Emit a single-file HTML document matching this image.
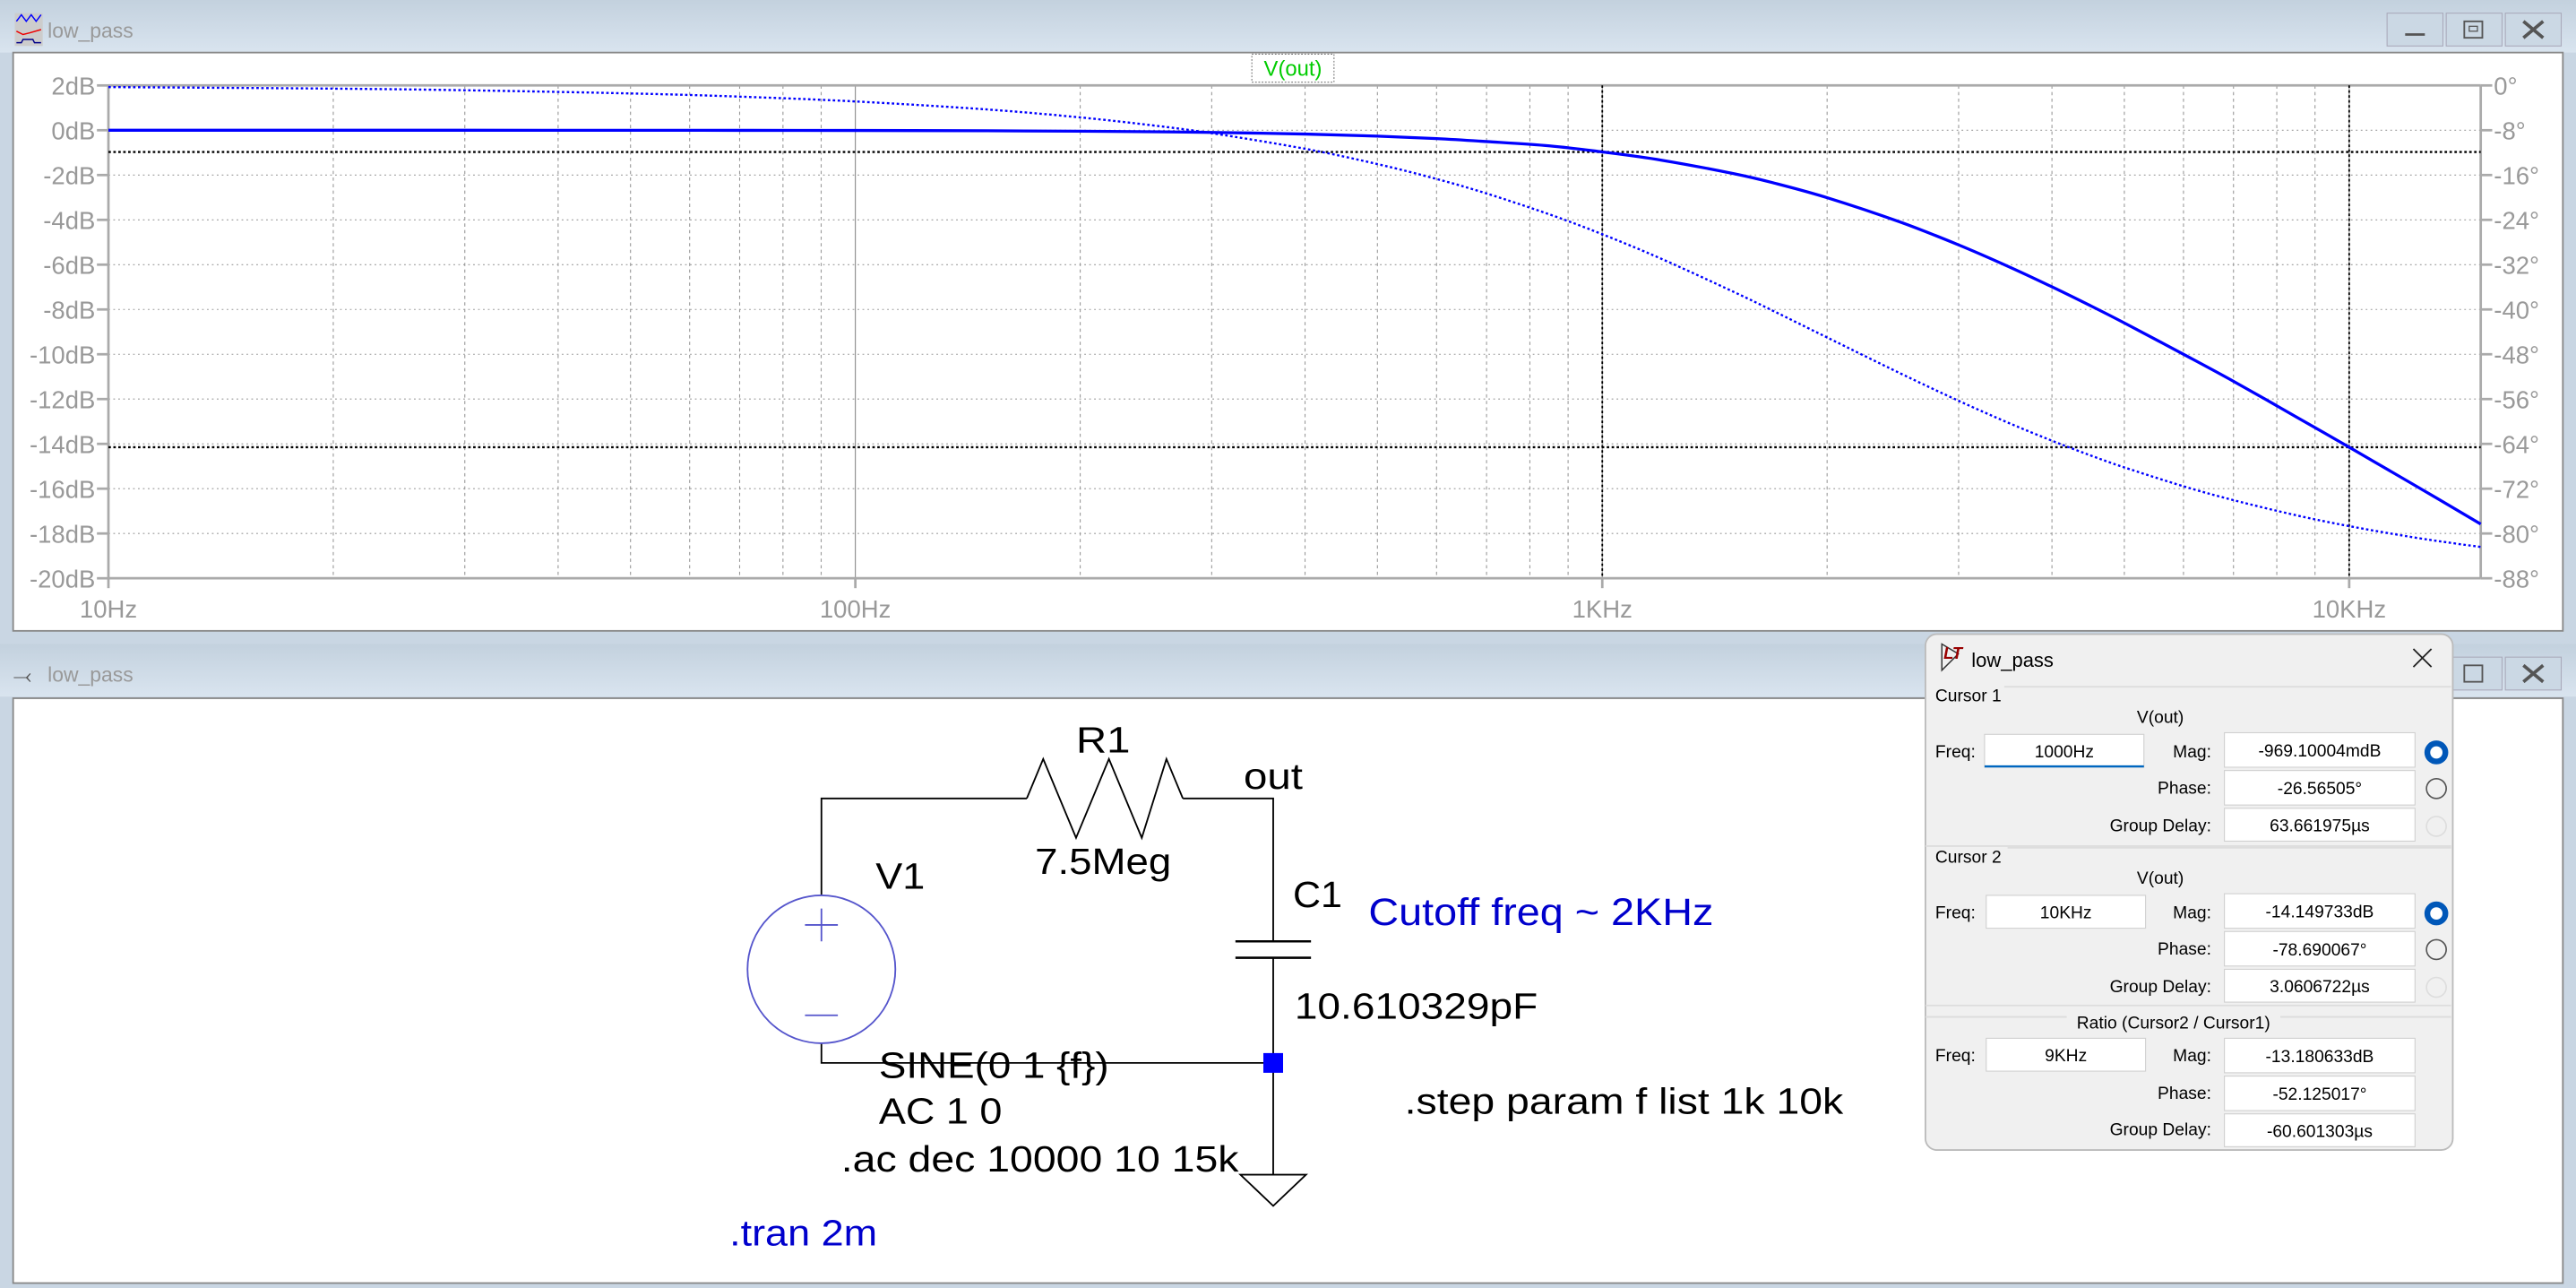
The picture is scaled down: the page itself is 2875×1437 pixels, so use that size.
<!DOCTYPE html>
<html><head><meta charset="utf-8"><style>
html,body{margin:0;padding:0;background:#c9d6e3;overflow:hidden}
svg{display:block}
text{font-family:"Liberation Sans",sans-serif}
</style></head><body>
<svg id="root" width="2875" height="1437" viewBox="0 0 1568 784" preserveAspectRatio="none" xmlns="http://www.w3.org/2000/svg">
<defs>
<linearGradient id="tb" x1="0" y1="0" x2="0" y2="1"><stop offset="0" stop-color="#c3d1de"/><stop offset="1" stop-color="#d9e4ef"/></linearGradient>
</defs>
<rect x="0" y="0" width="1568" height="784" fill="#c9d6e3"/>
<g>
<rect x="0" y="0" width="1568" height="32" fill="url(#tb)"/>
<g><rect x="9" y="8" width="17" height="20" fill="#ccc"/><polyline points="10,13 13,9 16,13 19,9 22,13 25,9" fill="none" stroke="#00f" stroke-width="0.8"/><polyline points="10,19 14,21 18,20 25,18" fill="none" stroke="#e00" stroke-width="0.8"/><polyline points="10,26 13,26 14,24 20,24 21,26 25,26" fill="none" stroke="#008" stroke-width="0.8"/></g>
<text x="29" y="23" font-size="12.5" fill="#999">low_pass</text>
<g>
<rect x="1453" y="8" width="34" height="20" fill="#cbd8e4" stroke="#aab" stroke-width="0.6"/><line x1="1464" y1="21" x2="1476" y2="21" stroke="#555" stroke-width="1.5"/>
<rect x="1489" y="8" width="34" height="20" fill="#cbd8e4" stroke="#aab" stroke-width="0.6"/><rect x="1500" y="13" width="11" height="10" fill="none" stroke="#555"/><rect x="1503" y="16" width="5" height="3" fill="none" stroke="#555" stroke-width="0.7"/>
<rect x="1525" y="8" width="34" height="20" fill="#cbd8e4" stroke="#aab" stroke-width="0.6"/><path d="M1536 13 L1548 23 M1548 13 L1536 23" stroke="#555" stroke-width="2"/>
</g>
<rect x="8" y="32" width="1552" height="352" fill="#fff" stroke="#888" stroke-width="1"/>
<g id="chart"></g>
</g>
<g>
<rect x="0" y="392" width="1568" height="32" fill="url(#tb)"/>
<text x="8" y="416" font-size="14" fill="#555">⤙</text>
<text x="29" y="415" font-size="12.5" fill="#999">low_pass</text>
<rect x="1489" y="400" width="34" height="20" fill="#cbd8e4" stroke="#aab" stroke-width="0.6"/><rect x="1500" y="405" width="11" height="10" fill="none" stroke="#555"/>
<rect x="1525" y="400" width="34" height="20" fill="#cbd8e4" stroke="#aab" stroke-width="0.6"/><path d="M1536 405 L1548 415 M1548 405 L1536 415" stroke="#555" stroke-width="2"/>
<rect x="8" y="425" width="1552" height="356" fill="#fff" stroke="#888" stroke-width="1"/>
<g stroke="#000" stroke-width="1" fill="none">
<polyline points="500,545 500,486 625,486"/>
<polyline points="625,486 635,462 655,510 675,462 695,510 710,462 720,486"/>
<polyline points="720,486 775,486 775,573"/>
<line x1="752" y1="573" x2="798" y2="573" stroke-width="1.4"/>
<line x1="752" y1="583" x2="798" y2="583" stroke-width="1.4"/>
<polyline points="775,583 775,715"/>
<polyline points="775,647 500,647 500,635"/>
<polygon points="755,715 795,715 775,734"/>
</g>
<g>
<circle cx="500" cy="590" r="45" fill="none" stroke="#55c" stroke-width="1"/>
<path d="M490 563 H510 M500 553 V573 M490 618 H510" stroke="#55c" stroke-width="1"/>
</g>
<rect x="769" y="641" width="12" height="12" fill="#00f"/>
<g font-size="22" fill="#000" lengthAdjust="spacingAndGlyphs">
<text x="655" y="458" textLength="33" lengthAdjust="spacingAndGlyphs">R1</text>
<text x="630" y="532" textLength="83" lengthAdjust="spacingAndGlyphs">7.5Meg</text>
<text x="757" y="480" textLength="36" lengthAdjust="spacingAndGlyphs">out</text>
<text x="533" y="541" textLength="30" lengthAdjust="spacingAndGlyphs">V1</text>
<text x="787" y="552" textLength="30" lengthAdjust="spacingAndGlyphs">C1</text>
<text x="788" y="620" textLength="148" lengthAdjust="spacingAndGlyphs">10.610329pF</text>
<text x="535" y="656" textLength="140" lengthAdjust="spacingAndGlyphs">SINE(0 1 {f})</text>
<text x="535" y="684" textLength="75" lengthAdjust="spacingAndGlyphs">AC 1 0</text>
<text x="512" y="713" textLength="242" lengthAdjust="spacingAndGlyphs">.ac dec 10000 10 15k</text>
<text x="855" y="678" textLength="267" lengthAdjust="spacingAndGlyphs">.step param f list 1k 10k</text>
</g>
<text x="833" y="563" font-size="23" fill="#00c" textLength="210" lengthAdjust="spacingAndGlyphs">Cutoff freq ~ 2KHz</text>
<text x="444" y="758" font-size="22" fill="#00c" textLength="90" lengthAdjust="spacingAndGlyphs">.tran 2m</text>
</g>
<g font-size="10.5" fill="#000">
<rect x="1172" y="386" width="321" height="314" rx="7" fill="#f0f0f0" stroke="#bbb" stroke-width="1"/>
<path d="M1182 392 L1182 408 L1192 398 Z" fill="none" stroke="#333" stroke-width="0.8"/><text x="1183" y="401" font-size="10" fill="#900" font-weight="bold" font-style="italic">LT</text>
<text x="1200" y="406" font-size="12">low_pass</text>
<path d="M1469 395 L1480 406 M1480 395 L1469 406" stroke="#222" stroke-width="1"/>
<g id="dlg"></g>
</g>
<text x="787" y="46" font-size="13" fill="#0c0" text-anchor="middle">V(out)</text>
<rect x="762" y="33" width="50" height="17" fill="none" stroke="#777" stroke-dasharray="1,1" stroke-width="0.6"/>
</svg>
<script>
const freqs=[10,20,30,50,70,100,150,200,250,300,400,500,600,700,850,1000,1200,1500,1700,2000,2500,3000,3500,4000,4500,5000,6000,7000,8500,10000,12000,13500,15000];
const magDb=[0,0,-0.001,-0.003,-0.005,-0.011,-0.024,-0.043,-0.067,-0.097,-0.170,-0.263,-0.374,-0.506,-0.699,-0.969,-1.336,-1.938,-2.360,-3.010,-4.087,-5.119,-6.088,-6.990,-7.826,-8.603,-10.0,-11.206,-12.802,-14.150,-15.682,-16.680,-17.578];
const phaseDeg=[-0.29,-0.57,-0.86,-1.43,-2.00,-2.86,-4.29,-5.71,-7.13,-8.53,-11.31,-14.04,-16.70,-19.29,-23.03,-26.57,-30.96,-36.87,-40.36,-45.0,-51.34,-56.31,-60.26,-63.43,-66.04,-68.20,-71.57,-74.05,-76.76,-78.69,-80.54,-81.57,-82.41];
const dbTicks=[2,0,-2,-4,-6,-8,-10,-12,-14,-16,-18,-20];
const phaseTicks=[0,-8,-16,-24,-32,-40,-48,-56,-64,-72,-80,-88];
const decadeFreqs=[10,100,1000,10000];
const decadeLabels=["10Hz","100Hz","1KHz","10KHz"];
const cursorFreqs=[1000,10000];
const cursorMags=[-0.969,-14.150];

const NS="http://www.w3.org/2000/svg";
const X0=66,X1=1510,Y0=52,Y1=352,FMIN=10,FMAX=15000;
const xS=f=>X0+(Math.log10(f)-Math.log10(FMIN))/(Math.log10(FMAX)-Math.log10(FMIN))*(X1-X0);
const yDb=d=>Y0+(2-d)/22*(Y1-Y0);
const yPh=p=>Y0+(0-p)/88*(Y1-Y0);
const chart=document.getElementById('chart');
function mk(tag,attrs,parent){const e=document.createElementNS(NS,tag);for(const k in attrs)e.setAttribute(k,attrs[k]);(parent||chart).appendChild(e);return e;}

for(let d=10;d<=10000;d*=10){for(let m=1;m<=9;m++){const f=d*m;if(f>FMAX)break;const x=xS(f);
 const g=mk('line',{x1:x,y1:Y0,x2:x,y2:Y1,stroke:m===1?'#888':'#999','stroke-width':0.6,'stroke-dasharray':m===1?'none':'2,2'});
 
 }}
dbTicks.forEach((d,i)=>{const y=yDb(d);
 const g=mk('line',{x1:X0,y1:y,x2:X1,y2:y,stroke:(i===0||i===dbTicks.length-1)?'#aaa':'#999','stroke-width':(i===0||i===dbTicks.length-1)?1.5:0.6,'stroke-dasharray':(i===0||i===dbTicks.length-1)?'none':'1,2'});
 
 
 const tk=mk('line',{x1:X0-7,y1:y,x2:X0,y2:y,stroke:'#aaa','stroke-width':1.5});
 
 
 const t=mk('text',{x:X0-8,y:y+5.5,'font-size':15,fill:'#999','text-anchor':'end'});t.textContent=d+'dB';
 
 });
phaseTicks.forEach(p=>{const y=yPh(p);
 const tk=mk('line',{x1:X1,y1:y,x2:X1+7,y2:y,stroke:'#aaa','stroke-width':1.5});
 
 
 const t=mk('text',{x:X1+8,y:y+5.5,'font-size':15,fill:'#999'});t.textContent=p+'°';
 
 });
const ax=mk('path',{d:`M${X0} ${Y0} V${Y1} M${X1} ${Y0} V${Y1}`,stroke:'#aaa','stroke-width':1.5,fill:'none'});


decadeFreqs.forEach((f,i)=>{const x=xS(f);
 const tk=mk('line',{x1:x,y1:Y1,x2:x,y2:Y1+6,stroke:'#aaa','stroke-width':1.5});
 
 
 const t=mk('text',{x:x,y:Y1+24,'font-size':15,fill:'#999','text-anchor':'middle'});t.textContent=decadeLabels[i];
 
 });
cursorFreqs.forEach((f,i)=>{const x=xS(f),y=yDb(cursorMags[i]);
 const v=mk('line',{x1:x,y1:Y0,x2:x,y2:Y1,stroke:'#000','stroke-width':1,'stroke-dasharray':'1.5,1.5'});
 
 
 const h=mk('line',{x1:X0,y1:y,x2:X1,y2:y,stroke:'#000','stroke-width':1.3,'stroke-dasharray':'1.5,1.5'});
 
 });
function smooth(pts){let d=`M${pts[0][0]} ${pts[0][1]}`;for(let i=0;i<pts.length-1;i++){const p0=pts[Math.max(0,i-1)],p1=pts[i],p2=pts[i+1],p3=pts[Math.min(pts.length-1,i+2)];
 d+=` C${p1[0]+(p2[0]-p0[0])/6} ${p1[1]+(p2[1]-p0[1])/6} ${p2[0]-(p3[0]-p1[0])/6} ${p2[1]-(p3[1]-p1[1])/6} ${p2[0]} ${p2[1]}`;}return d;}
const mp=mk('path',{d:smooth(freqs.map((f,i)=>[xS(f),yDb(magDb[i])])),stroke:'#00f','stroke-width':1.8,fill:'none'});


const pp=mk('path',{d:smooth(freqs.map((f,i)=>[xS(f),yPh(phaseDeg[i])])),stroke:'#00f','stroke-width':1.3,fill:'none','stroke-dasharray':'1.5,1.5'});



const dlg=document.getElementById('dlg');
function dt(x,y,s,anchor,name,size){const t=document.createElementNS(NS,'text');t.setAttribute('x',x);t.setAttribute('y',y);t.setAttribute('font-size',size||10.5);if(anchor)t.setAttribute('text-anchor',anchor);t.textContent=s;
 
 
 dlg.appendChild(t);return t;}
function box(x,y,w,h,s,name){const r=document.createElementNS(NS,'rect');r.setAttribute('x',x);r.setAttribute('y',y);r.setAttribute('width',w);r.setAttribute('height',h);r.setAttribute('fill','#fff');r.setAttribute('stroke','#d0d0d0');r.setAttribute('stroke-width','0.6');
 
 
 dlg.appendChild(r);dt(x+w/2,y+h/2+4,s,'middle',name+'-value');}
function radio(cy,on,faint,name){const c=document.createElementNS(NS,'circle');c.setAttribute('cx',1483);c.setAttribute('cy',cy);c.setAttribute('r',on?5.5:6);c.setAttribute('fill',on?'#fff':'none');c.setAttribute('stroke',on?'#0057b8':(faint?'#ddd':'#555'));c.setAttribute('stroke-width',on?3.5:0.9);
 
 
 dlg.appendChild(c);}
function sep(y,lx){const l=document.createElementNS(NS,'line');l.setAttribute('x1',lx);l.setAttribute('y1',y);l.setAttribute('x2',1492);l.setAttribute('y2',y);l.setAttribute('stroke','#ddd');
 
 
 dlg.appendChild(l);}
const groups=[{t:'Cursor 1',y:416,freq:'1000Hz',mag:'-969.10004mdB',ph:'-26.56505°',gd:'63.661975µs'},{t:'Cursor 2',y:514,freq:'10KHz',mag:'-14.149733dB',ph:'-78.690067°',gd:'3.0606722µs'}];
sep(418,1220);sep(515,1172);sep(516,1222);sep(612,1172);sep(619,1172);
groups.forEach((g,i)=>{const y=g.y;
 dt(1178,y+11,g.t,null,'cursor'+(i+1)+'-group-label');
 dt(1315,y+24,'V(out)','middle','cursor'+(i+1)+'-trace-name');
 dt(1178,y+45,'Freq:',null,'freq-label');
 box(1208+(i?1:0),y+31,97,20,g.freq,'cursor'+(i+1)+'-freq-input');
 dt(1346,y+45,'Mag:','end','mag-label');
 box(1354,y+30,116,21,g.mag,'cursor'+(i+1)+'-mag');
 dt(1346,y+67,'Phase:','end','phase-label');
 box(1354,y+53,116,21,g.ph,'cursor'+(i+1)+'-phase');
 dt(1346,y+90,'Group Delay:','end','group-delay-label');
 box(1354,y+76,116,20,g.gd,'cursor'+(i+1)+'-group-delay');
 radio(y+42,true,false,'cursor'+(i+1)+'-mag-radio');radio(y+64,false,false,'cursor'+(i+1)+'-phase-radio');radio(y+87,false,true,'cursor'+(i+1)+'-gd-radio');});
const ul=document.createElementNS(NS,'line');ul.setAttribute('x1',1208);ul.setAttribute('y1',466.5);ul.setAttribute('x2',1305);ul.setAttribute('y2',466.5);ul.setAttribute('stroke','#0067c0');ul.setAttribute('stroke-width','1.3');


dlg.appendChild(ul);
const rb=document.createElementNS(NS,'rect');rb.setAttribute('x',1258);rb.setAttribute('y',613);rb.setAttribute('width',130);rb.setAttribute('height',12);rb.setAttribute('fill','#f0f0f0');dlg.appendChild(rb);
dt(1323,626,'Ratio (Cursor2 / Cursor1)','middle','ratio-group-label');
dt(1178,646,'Freq:',null,'freq-label');box(1209,632,97,20,'9KHz','ratio-freq');
dt(1346,646,'Mag:','end','mag-label');box(1354,632,116,21,'-13.180633dB','ratio-mag');
dt(1346,669,'Phase:','end','phase-label');box(1354,655,116,21,'-52.125017°','ratio-phase');
dt(1346,691,'Group Delay:','end','group-delay-label');box(1354,678,116,20,'-60.601303µs','ratio-group-delay');
</script>
</body></html>
